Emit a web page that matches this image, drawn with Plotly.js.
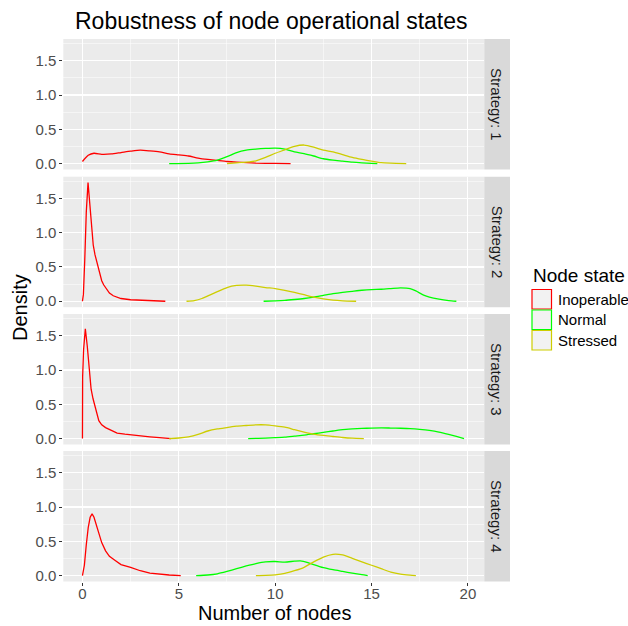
<!DOCTYPE html>
<html>
<head>
<meta charset="utf-8">
<script src="https://cdn.plot.ly/plotly-3.0.1.min.js"></script>
<style>html,body{margin:0;padding:0;background:#fff}#chart{width:628px;height:626px}</style>
</head>
<body>
<div id="chart"></div>
<script>
// ---- data ----
var strategies = ["Strategy: 1", "Strategy: 2", "Strategy: 3", "Strategy: 4"];
var states = ["Inoperable", "Normal", "Stressed"];
var stateColors = ["#ff0000", "#00ff00", "#cdcd00"];
var xTicks = [0, 5, 10, 15, 20];
var yTicks = [0, 0.5, 1.0, 1.5];
var yTickLabels = ["0.0", "0.5", "1.0", "1.5"];

// Strategy 1
var s1InopX = [0, 0.3, 0.6, 1.0, 1.5, 2, 2.5, 3, 3.5, 4, 4.5, 5, 5.5, 6, 6.5, 7, 7.5, 8, 8.5, 9, 10, 10.8];
var s1InopY = [0.03, 0.12, 0.15, 0.135, 0.14, 0.16, 0.18, 0.195, 0.185, 0.17, 0.14, 0.125, 0.11, 0.08, 0.06, 0.045, 0.03, 0.02, 0.012, 0.006, 0.002, 0];
var s1NormX = [4.5, 5.5, 6, 6.5, 7, 7.5, 8, 8.5, 9, 9.5, 10, 10.5, 11, 11.5, 12, 12.5, 13, 13.5, 14, 14.5, 15, 15.3];
var s1NormY = [0, 0.003, 0.01, 0.025, 0.05, 0.1, 0.16, 0.195, 0.21, 0.22, 0.225, 0.21, 0.17, 0.145, 0.11, 0.07, 0.05, 0.035, 0.02, 0.01, 0.003, 0];
var s1StrsX = [7.5, 8, 8.5, 9, 9.5, 10, 10.5, 11, 11.5, 12, 12.5, 13, 13.5, 14, 14.5, 15, 15.5, 16, 16.8];
var s1StrsY = [0, 0.01, 0.02, 0.04, 0.09, 0.15, 0.2, 0.25, 0.27, 0.24, 0.195, 0.17, 0.13, 0.09, 0.06, 0.035, 0.012, 0.005, 0];

// Strategy 2
var s2InopX = [0, 0.05, 0.12, 0.2, 0.29, 0.38, 0.47, 0.56, 0.65, 0.8, 0.9, 1.0, 1.1, 1.25, 1.4, 1.6, 1.8, 2, 2.5, 3, 3.5, 4, 4.3];
var s2InopY = [0, 0.1, 0.6, 1.3, 1.73, 1.45, 1.05, 0.82, 0.68, 0.5, 0.4, 0.3, 0.24, 0.18, 0.12, 0.08, 0.055, 0.04, 0.022, 0.014, 0.01, 0.004, 0];
var s2NormX = [9.4, 10, 10.5, 11, 11.5, 12, 12.5, 13, 13.5, 14, 14.5, 15, 15.5, 16, 16.5, 17, 17.3, 17.7, 18, 18.5, 19, 19.4];
var s2NormY = [0, 0.005, 0.012, 0.025, 0.04, 0.06, 0.085, 0.11, 0.13, 0.145, 0.16, 0.17, 0.175, 0.185, 0.195, 0.185, 0.15, 0.09, 0.06, 0.03, 0.01, 0];
var s2StrsX = [5.4, 5.8, 6.2, 6.6, 7, 7.5, 8, 8.5, 9, 9.5, 10, 10.5, 11, 11.5, 12, 12.5, 13, 13.5, 14.2];
var s2StrsY = [0, 0.01, 0.04, 0.09, 0.14, 0.2, 0.23, 0.235, 0.22, 0.2, 0.185, 0.16, 0.13, 0.095, 0.06, 0.035, 0.015, 0.005, 0];

// Strategy 3
var s3InopX = [0, 0.01, 0.06, 0.15, 0.25, 0.35, 0.45, 0.55, 0.7, 0.85, 1.0, 1.2, 1.5, 1.8, 2.2, 2.6, 3, 3.5, 4, 4.6];
var s3InopY = [0, 0.9, 1.3, 1.6, 1.35, 1.0, 0.72, 0.58, 0.4, 0.26, 0.2, 0.16, 0.12, 0.08, 0.065, 0.05, 0.04, 0.025, 0.012, 0];
var s3NormX = [8.6, 9.5, 10, 10.5, 11, 11.5, 12, 12.5, 13, 13.5, 14, 14.5, 15, 15.5, 16, 16.5, 17, 17.5, 18, 18.5, 19, 19.4, 19.8];
var s3NormY = [0, 0.005, 0.012, 0.02, 0.035, 0.05, 0.07, 0.09, 0.11, 0.13, 0.14, 0.148, 0.152, 0.155, 0.153, 0.15, 0.145, 0.135, 0.12, 0.095, 0.06, 0.03, 0];
var s3StrsX = [4.5, 5, 5.5, 6, 6.5, 7, 7.5, 8, 8.5, 9, 9.5, 10, 10.5, 11, 11.5, 12, 12.5, 13, 13.5, 14, 14.6];
var s3StrsY = [0, 0.008, 0.025, 0.06, 0.11, 0.14, 0.16, 0.18, 0.19, 0.2, 0.2, 0.185, 0.165, 0.13, 0.095, 0.065, 0.045, 0.03, 0.015, 0.005, 0];

// Strategy 4
var s4InopX = [0, 0.1, 0.2, 0.3, 0.4, 0.5, 0.6, 0.75, 0.9, 1.0, 1.2, 1.4, 1.7, 2.0, 2.5, 3, 3.5, 4, 4.5, 5.1];
var s4InopY = [0, 0.15, 0.45, 0.7, 0.85, 0.9, 0.85, 0.72, 0.58, 0.48, 0.36, 0.28, 0.22, 0.16, 0.12, 0.07, 0.035, 0.018, 0.008, 0];
var s4NormX = [5.9, 6.5, 7, 7.5, 8, 8.5, 9, 9.5, 10, 10.5, 11, 11.3, 11.7, 12, 12.5, 13, 13.5, 14, 14.5, 14.8];
var s4NormY = [0, 0.008, 0.025, 0.06, 0.1, 0.14, 0.175, 0.2, 0.205, 0.195, 0.21, 0.215, 0.19, 0.16, 0.115, 0.085, 0.06, 0.035, 0.012, 0];
var s4StrsX = [9.0, 9.5, 10, 10.5, 11, 11.5, 12, 12.5, 13, 13.5, 14, 14.5, 15, 15.5, 16, 16.5, 17, 17.3];
var s4StrsY = [0, 0.003, 0.01, 0.03, 0.07, 0.12, 0.2, 0.27, 0.31, 0.3, 0.25, 0.2, 0.15, 0.1, 0.05, 0.02, 0.005, 0];

var seriesX = [[s1InopX, s1NormX, s1StrsX], [s2InopX, s2NormX, s2StrsX], [s3InopX, s3NormX, s3StrsX], [s4InopX, s4NormX, s4StrsX]];
var seriesY = [[s1InopY, s1NormY, s1StrsY], [s2InopY, s2NormY, s2StrsY], [s3InopY, s3NormY, s3StrsY], [s4InopY, s4NormY, s4StrsY]];

(function () {
  // ---- layout geometry (pixels) ----
  var W = 628, H = 626;
  function px(x) { return x / W; }
  function py(y) { return 1 - y / H; }
  var panelLeft = 63.3, panelRight = 484.3, stripRight = 510;
  var panelTops = [39, 176.7, 314, 451];
  var panelH = 130.5;

  var traces = [];
  for (var p = 0; p < 4; p++) {
    for (var s = 0; s < 3; s++) {
      traces.push({
        type: "scatter", mode: "lines",
        x: seriesX[p][s], y: seriesY[p][s],
        xaxis: "x", yaxis: p === 0 ? "y" : "y" + (p + 1),
        line: { color: stateColors[s], width: 1.3, shape: (s === 0 && p > 0) ? "linear" : "spline", smoothing: 0.6 },
        name: states[s], showlegend: false, hoverinfo: "skip"
      });
    }
  }

  var layout = {
    width: W, height: H,
    margin: { l: 0, r: 0, t: 0, b: 0 },
    paper_bgcolor: "#ffffff",
    plot_bgcolor: "#ebebeb",
    font: { family: "Liberation Sans, Arial, sans-serif", color: "#000000" },
    showlegend: false,
    shapes: [],
    annotations: [],
    xaxis: {
      domain: [px(panelLeft), px(panelRight)],
      range: [-0.993, 20.85],
      anchor: "y4",
      tickmode: "array", tickvals: xTicks, ticktext: xTicks.map(String),
      ticks: "outside", ticklen: 3, tickwidth: 1, tickcolor: "#333333",
      ticklabelstandoff: -5,
      tickfont: { size: 15, color: "#4d4d4d" },
      showgrid: true, gridcolor: "#ffffff", gridwidth: 1.1,
      zeroline: false, showline: false,
      minor: { tickmode: "array", tickvals: [2.5, 7.5, 12.5, 17.5], showgrid: true, gridcolor: "#ffffff", gridwidth: 0.5, ticks: "" }
    }
  };

  for (var p = 0; p < 4; p++) {
    var key = p === 0 ? "yaxis" : "yaxis" + (p + 1);
    var pTop = panelTops[p], pBot = pTop + panelH;
    layout[key] = {
      domain: [py(pBot), py(pTop)],
      range: [-0.087, 1.817],
      anchor: "x",
      tickmode: "array", tickvals: yTicks, ticktext: yTickLabels,
      ticks: "outside", ticklen: 3, tickwidth: 1, tickcolor: "#333333",
      tickfont: { size: 15, color: "#4d4d4d" },
      showgrid: true, gridcolor: "#ffffff", gridwidth: 1.1,
      zeroline: false, showline: false,
      minor: { tickmode: "array", tickvals: [0.25, 0.75, 1.25, 1.75], showgrid: true, gridcolor: "#ffffff", gridwidth: 0.5, ticks: "" }
    };
    layout.shapes.push({
      type: "rect", xref: "paper", yref: "paper",
      x0: px(panelRight), x1: px(stripRight), y0: py(pBot), y1: py(pTop),
      fillcolor: "#d9d9d9", line: { width: 0 }, layer: "below"
    });
    layout.annotations.push({
      xref: "paper", yref: "paper", x: px((panelRight + stripRight) / 2), y: py((pTop + pBot) / 2),
      text: strategies[p], textangle: 90, showarrow: false,
      font: { size: 15, color: "#1a1a1a" }, xanchor: "center", yanchor: "middle"
    });
  }

  // titles
  layout.annotations.push({
    xref: "paper", yref: "paper", x: px(73), y: py(21), xanchor: "left", yanchor: "middle",
    text: "Robustness of node operational states", showarrow: false, font: { size: 23, color: "#000000" }
  });
  layout.annotations.push({
    xref: "paper", yref: "paper", x: px(20), y: py(308), xanchor: "center", yanchor: "middle",
    text: "Density", textangle: -90, showarrow: false, font: { size: 20, color: "#000000" }
  });
  layout.annotations.push({
    xref: "paper", yref: "paper", x: px(274), y: py(613), xanchor: "center", yanchor: "middle",
    text: "Number of nodes", showarrow: false, font: { size: 20, color: "#000000" }
  });

  // legend (drawn manually to mimic ggplot key boxes)
  layout.annotations.push({
    xref: "paper", yref: "paper", x: px(531), y: py(275), xanchor: "left", yanchor: "middle",
    text: "Node state", showarrow: false, font: { size: 19, color: "#000000" }
  });
  var keyTops = [289.5, 310, 330.5];
  for (var s = 0; s < 3; s++) {
    layout.shapes.push({
      type: "rect", xref: "paper", yref: "paper",
      x0: px(532), x1: px(551.5), y0: py(keyTops[s] + 19.5), y1: py(keyTops[s]),
      fillcolor: "#f2f2f2", line: { color: stateColors[s], width: 1.2 }
    });
    layout.annotations.push({
      xref: "paper", yref: "paper", x: px(556), y: py(keyTops[s] + 9.8), xanchor: "left", yanchor: "middle",
      text: states[s], showarrow: false, font: { size: 15, color: "#000000" }
    });
  }

  Plotly.newPlot("chart", traces, layout, { staticPlot: true, displayModeBar: false });
})();
</script>
</body>
</html>
